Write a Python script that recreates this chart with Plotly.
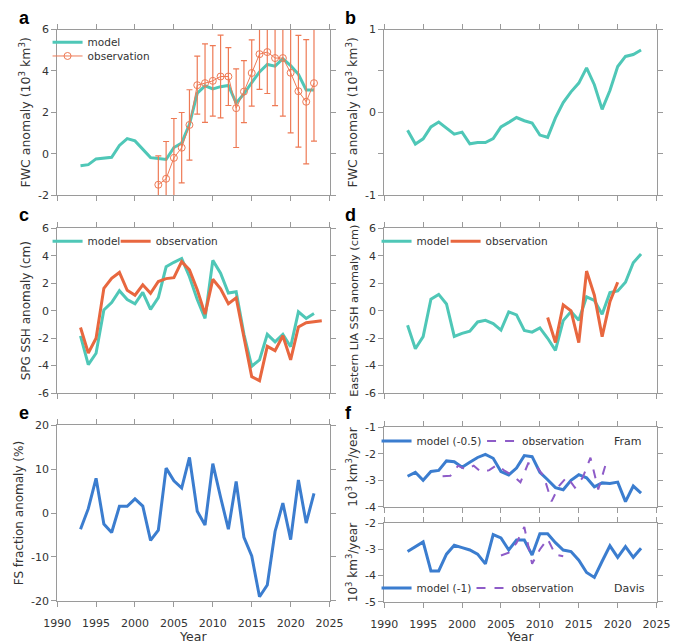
import plotly.graph_objects as go

# ---------------- data ----------------
years = list(range(1993, 2024))

# panel a
a_model = [-0.58, -0.53, -0.25, -0.2, -0.17, 0.40, 0.73, 0.62, 0.24, -0.19, -0.23, -0.28, 0.30, 0.52,
           1.42, 2.92, 3.28, 3.13, 3.24, 3.30, 2.45, 2.89, 3.44, 3.95, 4.31, 4.23, 4.59, 4.26, 3.84, 3.08, 3.08]
a_obs_years = list(range(2003, 2024))
a_obs = [-1.5, -1.21, -0.2, 0.29, 1.39, 3.31, 3.41, 3.52, 3.73, 3.73, 2.2, 3.0, 3.9, 4.81, 4.91, 4.62, 4.62,
         3.91, 3.02, 2.51, 3.41]
a_obs_err = [1.4, 1.8, 1.9, 1.7, 1.7, 1.4, 1.9, 1.7, 2.0, 1.4, 1.9, 1.5, 1.6, 1.7, 2.0, 2.3, 2.8, 2.9, 2.7, 3.0, 2.8]

# panel b
b_model = [-0.216, -0.384, -0.32, -0.176, -0.118, -0.188, -0.263, -0.239, -0.38, -0.365, -0.365, -0.318,
           -0.176, -0.122, -0.063, -0.102, -0.129, -0.275, -0.302, -0.067, 0.118, 0.247, 0.353, 0.537,
           0.333, 0.035, 0.263, 0.553, 0.675, 0.698, 0.753]

# panel c
c_model = [-1.84, -3.93, -3.1, 0.06, 0.6, 1.46, 0.82, 0.51, 1.34, 0.1, 0.96, 3.2, 3.53, 3.81, 2.48, 0.82,
           -0.56, 3.67, 2.74, 1.29, 1.39, -1.72, -4.05, -3.58, -1.72, -2.27, -1.72, -2.63, -0.08, -0.56, -0.2]
c_obs_years = list(range(1993, 2025))
c_obs = [-1.22, -3.08, -2.01, 1.63, 2.36, 2.79, 1.49, 1.13, 1.89, 1.27, 2.13, 2.34, 2.41, 3.58, 2.98, 1.53,
         -0.25, 2.29, 1.6, 0.51, 0.94, -1.91, -4.81, -5.1, -2.6, -2.91, -1.82, -3.58, -1.18, -0.87, -0.8, -0.73]

# panel d
d_model = [-1.06, -2.77, -1.89, 0.84, 1.19, 0.49, -1.87, -1.65, -1.49, -0.82, -0.7, -0.94, -1.41, -0.08,
           -0.3, -1.44, -1.56, -1.25, -2.01, -2.89, -0.72, -0.06, -0.7, 1.01, 0.75, -0.25, 1.32, 1.44,
           2.08, 3.5, 4.14]
d_obs_years = list(range(2011, 2021))
d_obs = [-0.49, -2.32, 0.42, -0.01, -2.32, 2.89, 1.13, -1.89, 0.65, 2.08]

# panel e
e_model = [-3.69, 1.0, 7.93, -2.5, -4.43, 1.53, 1.53, 3.24, 1.6, -6.22, -3.91, 10.24, 7.34, 5.7, 12.7,
           0.41, -2.72, 11.28, 3.61, -3.69, 7.19, -5.55, -9.79, -19.1, -16.4, -4.2, 2.27, -6.07, 7.56,
           -2.27, 4.5]

# panel f (Fram)
f1_model = [-2.85, -2.70, -3.0, -2.67, -2.63, -2.27, -2.30, -2.51, -2.32, -2.14, -2.02, -2.17, -2.67,
            -2.80, -2.54, -2.07, -2.11, -2.70, -2.98, -3.28, -3.36, -3.0, -2.79, -2.91, -3.25, -3.10,
            -3.12, -3.07, -3.81, -3.22, -3.49]
f1_obs_years = [1997.5, 1998.5, 1999.5, 2000.5, 2001.5, 2002.5, 2003.5, 2004.5, 2005.5, 2006.5, 2007.5,
                2008.5, 2009.5, 2010.5, 2011.5, 2012.5, 2013.5, 2014.5, 2015.5, 2016.5, 2017.5, 2018.5]
f1_obs = [-2.85, -2.83, -2.45, -2.6, -2.45, -2.7, -2.62, -2.42, -2.65, -2.82, -3.08, -2.36, -2.45, -2.85,
          -3.8, -3.2, -2.87, -3.28, -2.9, -2.15, -3.35, -2.36]

# panel f (Davis)
f2_model = [-3.08, -2.90, -2.71, -3.82, -3.82, -3.18, -2.84, -2.93, -3.02, -3.18, -3.55, -2.43, -2.56,
            -3.02, -2.64, -2.64, -3.21, -2.40, -2.40, -2.74, -3.02, -3.08, -3.41, -3.88, -4.07, -3.45,
            -2.86, -3.30, -2.89, -3.30, -2.95]
f2_obs_years = list(range(2005, 2014))
f2_obs = [-3.23, -3.12, -2.75, -2.14, -3.55, -3.0, -2.6, -3.2, -3.26]

x_ticks = list(range(1990, 2030, 5))

# ---------------- style ----------------
W, H = 685, 644
TEAL = "#4FC7B7"
ORANGE = "#E8673F"
ORANGE_A = "#EE7A55"
BLUE = "#3B7DCF"
PURPLE = "#8E5CC8"
AX = "#9a9a9a"
TXT = "#333333"
FONT = "DejaVu Sans"
TICK_SIZE = 11
LEG_SIZE = 10.5
TITLE_SIZE = 12


def xd(l, r):
    return [l / W, r / W]


def yd(t, b):
    return [1 - b / H, 1 - t / H]


fig = go.Figure()

# panel a
fig.add_trace(go.Scatter(x=years, y=a_model, mode="lines", name="model",
                         line=dict(color=TEAL, width=3), xaxis="x", yaxis="y", legend="legend"))
fig.add_trace(go.Scatter(x=a_obs_years, y=a_obs, mode="lines+markers", name="observation",
                         line=dict(color=ORANGE_A, width=1),
                         marker=dict(symbol="circle-open", size=7, color=ORANGE_A, line=dict(width=1)),
                         error_y=dict(type="data", array=a_obs_err, color=ORANGE_A, thickness=1.2, width=3),
                         xaxis="x", yaxis="y", legend="legend2"))
# panel b
fig.add_trace(go.Scatter(x=years, y=b_model, mode="lines", name="model", showlegend=False,
                         line=dict(color=TEAL, width=3), xaxis="x2", yaxis="y2"))
# panel c
fig.add_trace(go.Scatter(x=years, y=c_model, mode="lines", name="model",
                         line=dict(color=TEAL, width=3), xaxis="x3", yaxis="y3", legend="legend3"))
fig.add_trace(go.Scatter(x=c_obs_years, y=c_obs, mode="lines", name="observation",
                         line=dict(color=ORANGE, width=3), xaxis="x3", yaxis="y3", legend="legend4"))
# panel d
fig.add_trace(go.Scatter(x=years, y=d_model, mode="lines", name="model",
                         line=dict(color=TEAL, width=3), xaxis="x4", yaxis="y4", legend="legend5"))
fig.add_trace(go.Scatter(x=d_obs_years, y=d_obs, mode="lines", name="observation",
                         line=dict(color=ORANGE, width=3), xaxis="x4", yaxis="y4", legend="legend6"))
# panel e
fig.add_trace(go.Scatter(x=years, y=e_model, mode="lines", name="FS", showlegend=False,
                         line=dict(color=BLUE, width=3), xaxis="x5", yaxis="y5"))
# panel f top
fig.add_trace(go.Scatter(x=years, y=f1_model, mode="lines", name="model (-0.5)",
                         line=dict(color=BLUE, width=3), xaxis="x6", yaxis="y6", legend="legend7"))
fig.add_trace(go.Scatter(x=f1_obs_years, y=f1_obs, mode="lines", name="observation",
                         line=dict(color=PURPLE, width=2, dash="dash"), xaxis="x6", yaxis="y6",
                         legend="legend8"))
# panel f bottom
fig.add_trace(go.Scatter(x=years, y=f2_model, mode="lines", name="model (-1)",
                         line=dict(color=BLUE, width=3), xaxis="x7", yaxis="y7", legend="legend9"))
fig.add_trace(go.Scatter(x=f2_obs_years, y=f2_obs, mode="lines", name="observation",
                         line=dict(color=PURPLE, width=2, dash="dash"), xaxis="x7", yaxis="y7",
                         legend="legend10"))


def xaxis(dom, anchor, labels=False, title=None):
    d = dict(domain=xd(*dom), anchor=anchor, range=[1990, 2025], tickvals=x_ticks,
             showticklabels=labels, ticks="outside", ticklen=5, tickcolor=AX, showline=True,
             linecolor=AX, linewidth=1, mirror="ticks", showgrid=False, zeroline=False,
             ticklabelstandoff=7,
             tickfont=dict(family=FONT, size=TICK_SIZE, color=TXT))
    if title:
        d["title"] = dict(text=title, font=dict(family=FONT, size=TITLE_SIZE + 0.5, color=TXT), standoff=2)
    return d


def yaxis(dom, anchor, rng, tickvals, ticktext, title, tsize=TITLE_SIZE):
    return dict(domain=yd(*dom), anchor=anchor, range=rng, tickvals=tickvals, ticktext=ticktext,
                ticks="outside", ticklen=5, tickcolor=AX, showline=True, linecolor=AX, linewidth=1,
                mirror="ticks", showgrid=False, zeroline=False,
                tickfont=dict(family=FONT, size=TICK_SIZE, color=TXT),
                title=dict(text=title, font=dict(family=FONT, size=tsize, color=TXT), standoff=4))


LX = (45, 329)
RX = (386, 670)
fwc = "FWC anomaly (10<sup>3</sup> km<sup>3</sup>)"
flux = "10<sup>3</sup> km<sup>3</sup>/year"

layout = dict(
    width=W, height=H, margin=dict(l=0, r=0, t=0, b=0),
    paper_bgcolor="white", plot_bgcolor="white",
    xaxis=xaxis(LX, "y"),
    yaxis=yaxis((24, 193), "x", [-2, 6], [-2, 0, 2, 4, 6], ["-2", "0", "2", "4", "6"], fwc, 12.5),
    xaxis2=xaxis(RX, "y2"),
    yaxis2=yaxis((24, 193), "x2", [-1, 1], [-1, -0.5, 0, 0.5, 1], ["-1", " ", "0", " ", "1"], fwc, 12.5),
    xaxis3=xaxis(LX, "y3"),
    yaxis3=yaxis((227, 395), "x3", [-6, 6], [-6, -4, -2, 0, 2, 4, 6],
                 ["-6", "-4", "-2", "0", "2", "4", "6"], "SPG SSH anomaly (cm)"),
    xaxis4=xaxis(RX, "y4"),
    yaxis4=yaxis((227, 395), "x4", [-6, 6], [-6, -4, -2, 0, 2, 4, 6],
                 ["-6", "-4", "-2", "0", "2", "4", "6"], "Eastern LIA SSH anomaly (cm)", 11.3),
    xaxis5=xaxis(LX, "y5", labels=True, title="Year"),
    yaxis5=yaxis((428, 607), "x5", [-20, 20], [-20, -10, 0, 10, 20],
                 ["-20", "-10", "0", "10", "20"], "FS fraction anomaly (%)"),
    xaxis6=xaxis(RX, "y6"),
    yaxis6=yaxis((430, 511), "x6", [-4, -1], [-4, -3, -2, -1], ["-4", "-3", "-2", "-1"], flux),
    xaxis7=xaxis(RX, "y7", labels=True, title="Year"),
    yaxis7=yaxis((528, 608), "x7", [-5, -2], [-5, -4, -3, -2], ["-5", "-4", "-3", "-2"], flux),
    showlegend=True,
)

leg_common = dict(bgcolor="rgba(0,0,0,0)", borderwidth=0, font=dict(family=FONT, size=LEG_SIZE, color=TXT),
                  xanchor="left", yanchor="middle", tracegroupgap=0, itemwidth=30, orientation="h")
# one legend per entry so that each entry sits where the reference puts it
leg_pos = {
    "legend": (35, 37), "legend2": (35, 51),
    "legend3": (35, 240), "legend4": (106, 240),
    "legend5": (378, 240), "legend6": (450, 240),
    "legend7": (378, 444), "legend8": (488, 444),
    "legend9": (378, 594), "legend10": (477, 594),
}
for k, (px, py) in leg_pos.items():
    layout[k] = dict(leg_common, x=px / W, y=1 - py / H)

ann = []
for lab, x, y in [("a", 3, 12), ("b", 343, 12), ("c", 3, 213), ("d", 343, 213), ("e", 3, 415), ("f", 343, 415)]:
    ann.append(dict(text=f"<b>{lab}</b>", x=x / W, y=1 - y / H, xref="paper", yref="paper",
                    xanchor="left", yanchor="middle", showarrow=False,
                    font=dict(family="Liberation Sans", size=18, color="black")))
ann.append(dict(text="Fram", x=657 / W, y=1 - 444 / H, xref="paper", yref="paper", xanchor="right",
                yanchor="middle", showarrow=False, font=dict(family=FONT, size=LEG_SIZE + 0.5, color=TXT)))
ann.append(dict(text="Davis", x=660 / W, y=1 - 594 / H, xref="paper", yref="paper", xanchor="right",
                yanchor="middle", showarrow=False, font=dict(family=FONT, size=LEG_SIZE + 0.5, color=TXT)))
layout["annotations"] = ann

fig.update_layout(**layout)
fig.write_html("out.html")
